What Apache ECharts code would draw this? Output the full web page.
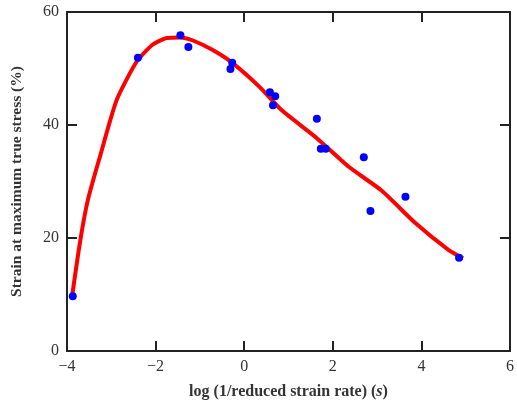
<!DOCTYPE html>
<html>
<head>
<meta charset="utf-8">
<script src="https://cdn.jsdelivr.net/npm/echarts@6/dist/echarts.min.js"></script>
<style>html,body{margin:0;padding:0;background:#fff}#c{width:517px;height:407px}</style>
</head>
<body>
<div id="c"></div>
<script>
const pointX = [-3.87, -2.40, -1.44, -1.26, -0.27, -0.31, 0.58, 0.70, 0.65, 1.64, 1.73, 1.84, 2.70, 3.64, 2.85, 4.85];
const pointY = [9.7, 51.9, 55.9, 53.8, 51.0, 49.9, 45.8, 45.1, 43.5, 41.1, 35.8, 35.8, 34.3, 27.3, 24.8, 16.5];
const fitX = [-3.89, -3.71, -3.53, -3.26, -2.88, -2.43, -2.07, -1.75, -1.45, -1.17, -0.72, -0.27, 0.34, 0.85, 1.62, 2.36, 3.10, 3.87, 4.61, 4.94];
const fitY = [9.4, 19.1, 26.7, 34.3, 44.4, 51.2, 54.2, 55.4, 55.5, 55.0, 53.3, 51.0, 46.8, 42.6, 37.8, 32.6, 28.4, 22.6, 17.9, 16.4];
const xTicks = {min: -4, max: 6, interval: 2};
const yTicks = {min: 0, max: 60, interval: 20};
const xTitle = 'log (1/reduced strain rate) ';
const xTitleVar = 's';
const yTitle = 'Strain at maximum true stress (%)';

const font = '"Liberation Serif", "DejaVu Serif", serif';
const chart = echarts.init(document.getElementById('c'));
const axisLine = {show: true, onZero: false, lineStyle: {color: '#222', width: 2}};
const axisTick = {show: true, inside: true, length: 10, lineStyle: {color: '#222', width: 2}};
chart.setOption({
  animation: false,
  grid: {left: 67, right: 5, top: 12, bottom: 56},
  xAxis: [{
    type: 'value', min: xTicks.min, max: xTicks.max, interval: xTicks.interval,
    axisLine, axisTick, splitLine: {show: false},
    axisLabel: {fontFamily: font, fontSize: 16, color: '#333', margin: 8,
      formatter: v => String(v).replace('-', '\u2212')},
    name: '{a|' + xTitle + '(}{b|' + xTitleVar + '}{a|)}', nameLocation: 'middle', nameGap: 33,
    nameTextStyle: {rich: {
      a: {fontFamily: font, fontSize: 16, fontWeight: 'bold', color: '#333'},
      b: {fontFamily: font, fontSize: 16, fontWeight: 'bold', fontStyle: 'italic', color: '#333'}}}
  }, {
    type: 'value', position: 'top', min: xTicks.min, max: xTicks.max, interval: xTicks.interval,
    axisLine, axisTick, axisLabel: {show: false}, splitLine: {show: false}
  }],
  yAxis: [{
    type: 'value', min: yTicks.min, max: yTicks.max, interval: yTicks.interval,
    axisLine, axisTick, splitLine: {show: false},
    axisLabel: {fontFamily: font, fontSize: 16, color: '#333', margin: 8},
    name: yTitle, nameLocation: 'middle', nameGap: 42,
    nameTextStyle: {fontFamily: font, fontSize: 15.5, fontWeight: 'bold', color: '#333'}
  }, {
    type: 'value', position: 'right', min: yTicks.min, max: yTicks.max, interval: yTicks.interval,
    axisLine, axisTick, axisLabel: {show: false}, splitLine: {show: false}
  }],
  series: [{
    type: 'line', smooth: 0.2, symbol: 'none',
    data: fitX.map((x, i) => [x, fitY[i]]),
    lineStyle: {color: '#ff0000', width: 4}, z: 2
  }, {
    type: 'scatter', symbol: 'circle', symbolSize: 8,
    data: pointX.map((x, i) => [x, pointY[i]]),
    itemStyle: {color: '#0000ff', opacity: 1}, z: 3
  }]
});
</script>
</body>
</html>
